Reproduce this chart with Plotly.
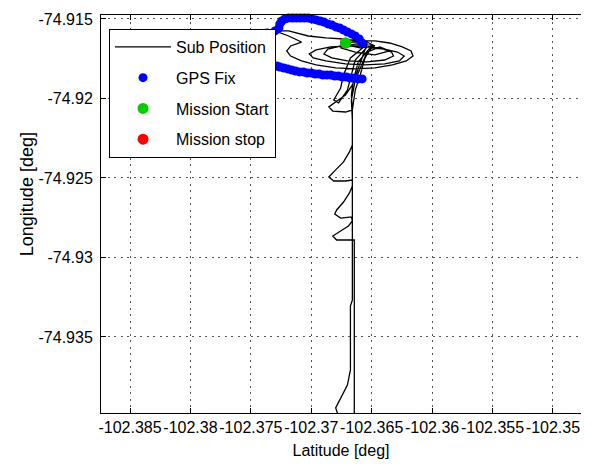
import plotly.graph_objects as go

# ---------------- data (degrees) ----------------
sub_lat = [
    # first large loop
    -102.36717, -102.36595, -102.36474, -102.36352, -102.36247, -102.36174, -102.36158, -102.36214,
    -102.36328, -102.36474, -102.36636, -102.36798, -102.36960, -102.37081, -102.37171, -102.37203,
    -102.37171, -102.37081, -102.37187, -102.37300, -102.37187, -102.37025, -102.36879, -102.36733,
    -102.36619, -102.36538,
    # first dip
    -102.36571, -102.36619, -102.36660, -102.36717, -102.36798, -102.36855, -102.36822, -102.36717,
    -102.36660, -102.36668, -102.36652, -102.36611, -102.36514,
    # second loop
    -102.36393, -102.36287, -102.36231, -102.36271, -102.36393, -102.36555, -102.36717, -102.36879,
    -102.36984, -102.37017, -102.36960, -102.36838, -102.36701, -102.36555,
    # second dip
    -102.36676, -102.36733, -102.36757, -102.36814, -102.36774, -102.36701, -102.36668, -102.36636,
    -102.36538,
    # third loop
    -102.36433, -102.36336, -102.36320, -102.36393, -102.36538, -102.36701, -102.36830, -102.36895,
    -102.36863, -102.36757, -102.36619, -102.36490,
    # descent with hooks
    -102.36555, -102.36595, -102.36636, -102.36660, -102.36660,
    -102.36684, -102.36733, -102.36798, -102.36855, -102.36814, -102.36717, -102.36660, -102.36660,
    -102.36684, -102.36733, -102.36790, -102.36806, -102.36757, -102.36668,
    -102.36660, -102.36692, -102.36757, -102.36822, -102.36790, -102.36701, -102.36644,
    -102.36644, -102.36644, -102.36644,
    # return leg
    -102.36701, -102.36765, -102.36798, -102.36749, -102.36701, -102.36676, -102.36676, -102.36660,
    -102.36660, -102.36660, -102.36660, -102.36668, -102.36636, -102.36587, -102.36538,
    # final loops back to start
    -102.36433, -102.36352, -102.36474, -102.36636, -102.36757, -102.36676, -102.36538, -102.36474,
    -102.36595, -102.36701, -102.36717,
]
sub_lon = [
    -74.91651, -74.91638, -74.91638, -74.91651, -74.91676, -74.91701, -74.91733, -74.91764,
    -74.91789, -74.91808, -74.91814, -74.91808, -74.91789, -74.91764, -74.91733, -74.91701,
    -74.91670, -74.91645, -74.91607, -74.91575, -74.91575, -74.91607, -74.91619, -74.91626,
    -74.91638, -74.91657,
    -74.91726, -74.91821, -74.91915, -74.91978, -74.92022, -74.92053, -74.92079, -74.92085,
    -74.92072, -74.91978, -74.91884, -74.91770, -74.91682,
    -74.91689, -74.91708, -74.91733, -74.91764, -74.91783, -74.91789, -74.91783, -74.91764,
    -74.91745, -74.91720, -74.91695, -74.91676, -74.91670, -74.91670,
    -74.91745, -74.91852, -74.91934, -74.92009, -74.92028, -74.91947, -74.91852, -74.91758,
    -74.91676,
    -74.91682, -74.91708, -74.91733, -74.91758, -74.91770, -74.91764, -74.91745, -74.91720,
    -74.91689, -74.91670, -74.91657, -74.91664,
    -74.91745, -74.91852, -74.91947, -74.92072, -74.92292,
    -74.92336, -74.92399, -74.92449, -74.92494, -74.92519, -74.92519, -74.92513, -74.92550,
    -74.92594, -74.92651, -74.92701, -74.92726, -74.92752, -74.92745,
    -74.92770, -74.92802, -74.92833, -74.92865, -74.92890, -74.92890, -74.92890,
    -74.93267, -74.93645, -74.94085,
    -74.94097, -74.94021, -74.93946, -74.93877, -74.93802, -74.93707, -74.93305, -74.93267,
    -74.92890, -74.92513, -74.92135, -74.92009, -74.91884, -74.91796, -74.91708,
    -74.91676, -74.91701, -74.91726, -74.91708, -74.91682, -74.91645, -74.91645, -74.91670,
    -74.91682, -74.91664, -74.91651,
]

gps_lat = [
    -102.36579, -102.36603, -102.36636, -102.36668, -102.36701, -102.36733, -102.36765, -102.36798,
    -102.36830, -102.36863, -102.36895, -102.36927, -102.36960, -102.36992, -102.37025, -102.37057,
    -102.37090, -102.37122, -102.37154, -102.37187, -102.37219, -102.37244, -102.37260, -102.37268,
    -102.37300, -102.37365, -102.37430, -102.37487, -102.37511, -102.37462, -102.37397, -102.37333,
    -102.37284,
    -102.37260, -102.37227, -102.37195, -102.37162, -102.37130, -102.37098, -102.37065, -102.37033,
    -102.37000, -102.36968, -102.36936, -102.36903, -102.36871, -102.36838, -102.36806, -102.36774,
    -102.36741, -102.36709, -102.36676, -102.36644, -102.36611, -102.36579,
]
gps_lon = [
    -74.91651, -74.91626, -74.91607, -74.91594, -74.91582, -74.91569, -74.91557, -74.91550,
    -74.91538, -74.91531, -74.91519, -74.91513, -74.91506, -74.91500, -74.91494, -74.91494,
    -74.91494, -74.91494, -74.91494, -74.91494, -74.91500, -74.91513, -74.91531, -74.91557,
    -74.91575, -74.91588, -74.91607, -74.91632, -74.91682, -74.91733, -74.91764, -74.91783,
    -74.91796,
    -74.91802, -74.91808, -74.91814, -74.91821, -74.91827, -74.91833, -74.91833, -74.91840,
    -74.91840, -74.91846, -74.91846, -74.91852, -74.91852, -74.91852, -74.91859, -74.91859,
    -74.91865, -74.91865, -74.91871, -74.91871, -74.91877, -74.91877,
]

start_lat = [-102.36717]
start_lon = [-74.91651]
stop_lat = [-102.36717]
stop_lon = [-74.91651]

x_ticks = [-102.385, -102.38, -102.375, -102.37, -102.365, -102.36, -102.355, -102.35]
x_tick_text = ["-102.385", "-102.38", "-102.375", "-102.37", "-102.365", "-102.36", "-102.355", "-102.35"]
y_ticks = [-74.915, -74.92, -74.925, -74.93, -74.935]
y_tick_text = ["-74.915", "-74.92", "-74.925", "-74.93", "-74.935"]

x_range = [-102.38740, -102.34768]
y_range = [-74.93978, -74.91475]

# ---------------- figure ----------------
FONT = "Liberation Sans, Arial, sans-serif"
fig = go.Figure()

fig.add_trace(go.Scatter(
    x=sub_lat, y=sub_lon, mode="lines", name="Sub Position",
    line=dict(color="black", width=1.3), legendgroup="a", legendrank=1,
))
fig.add_trace(go.Scatter(
    x=gps_lat, y=gps_lon, mode="markers", name="GPS Fix",
    marker=dict(color="#0000ff", size=9, symbol="circle"), cliponaxis=False,
    legendgroup="b", legendrank=2,
))
fig.add_trace(go.Scatter(
    x=stop_lat, y=stop_lon, mode="markers", name="Mission stop",
    marker=dict(color="#ff0000", size=11), legendgroup="d", legendrank=4,
))
fig.add_trace(go.Scatter(
    x=start_lat, y=start_lon, mode="markers", name="Mission Start",
    marker=dict(color="#00cc00", size=11), legendgroup="c", legendrank=3,
))

axis_common = dict(
    showline=True, linecolor="black", linewidth=1,
    ticks="inside", ticklen=5, tickcolor="black",
    showgrid=True, gridcolor="#555555", gridwidth=1, griddash="2px,4.5px",
    zeroline=False, tickfont=dict(family=FONT, size=16, color="black"),
    automargin=False, ticklabeloverflow="allow", tickangle=0,
)

fig.update_xaxes(
    range=x_range, tickvals=x_ticks, ticktext=x_tick_text, mirror="ticks",
    title=dict(text="Latitude [deg]", font=dict(family=FONT, size=16, color="black"), standoff=9),
    **axis_common,
)
fig.update_yaxes(
    range=y_range, tickvals=y_ticks, ticktext=y_tick_text, mirror=False,
    ticklabelstandoff=4,
    **axis_common,
)

fig.add_annotation(
    text="Longitude [deg]", xref="paper", yref="paper", x=-0.154, y=0.55,
    xanchor="center", yanchor="middle", textangle=-90, showarrow=False,
    font=dict(family=FONT, size=18, color="black"),
)

fig.update_layout(
    width=573, height=454,
    margin=dict(l=93, r=0, t=7, b=49),
    paper_bgcolor="white", plot_bgcolor="white",
    font=dict(family=FONT, size=16, color="black"),
    showlegend=True,
    legend=dict(
        x=0.0167, y=0.965, xanchor="left", yanchor="top",
        bgcolor="white", bordercolor="black", borderwidth=1,
        font=dict(family=FONT, size=16, color="black"),
        itemwidth=56, tracegroupgap=7, traceorder="grouped",
    ),
)

fig.write_html("out.html")
